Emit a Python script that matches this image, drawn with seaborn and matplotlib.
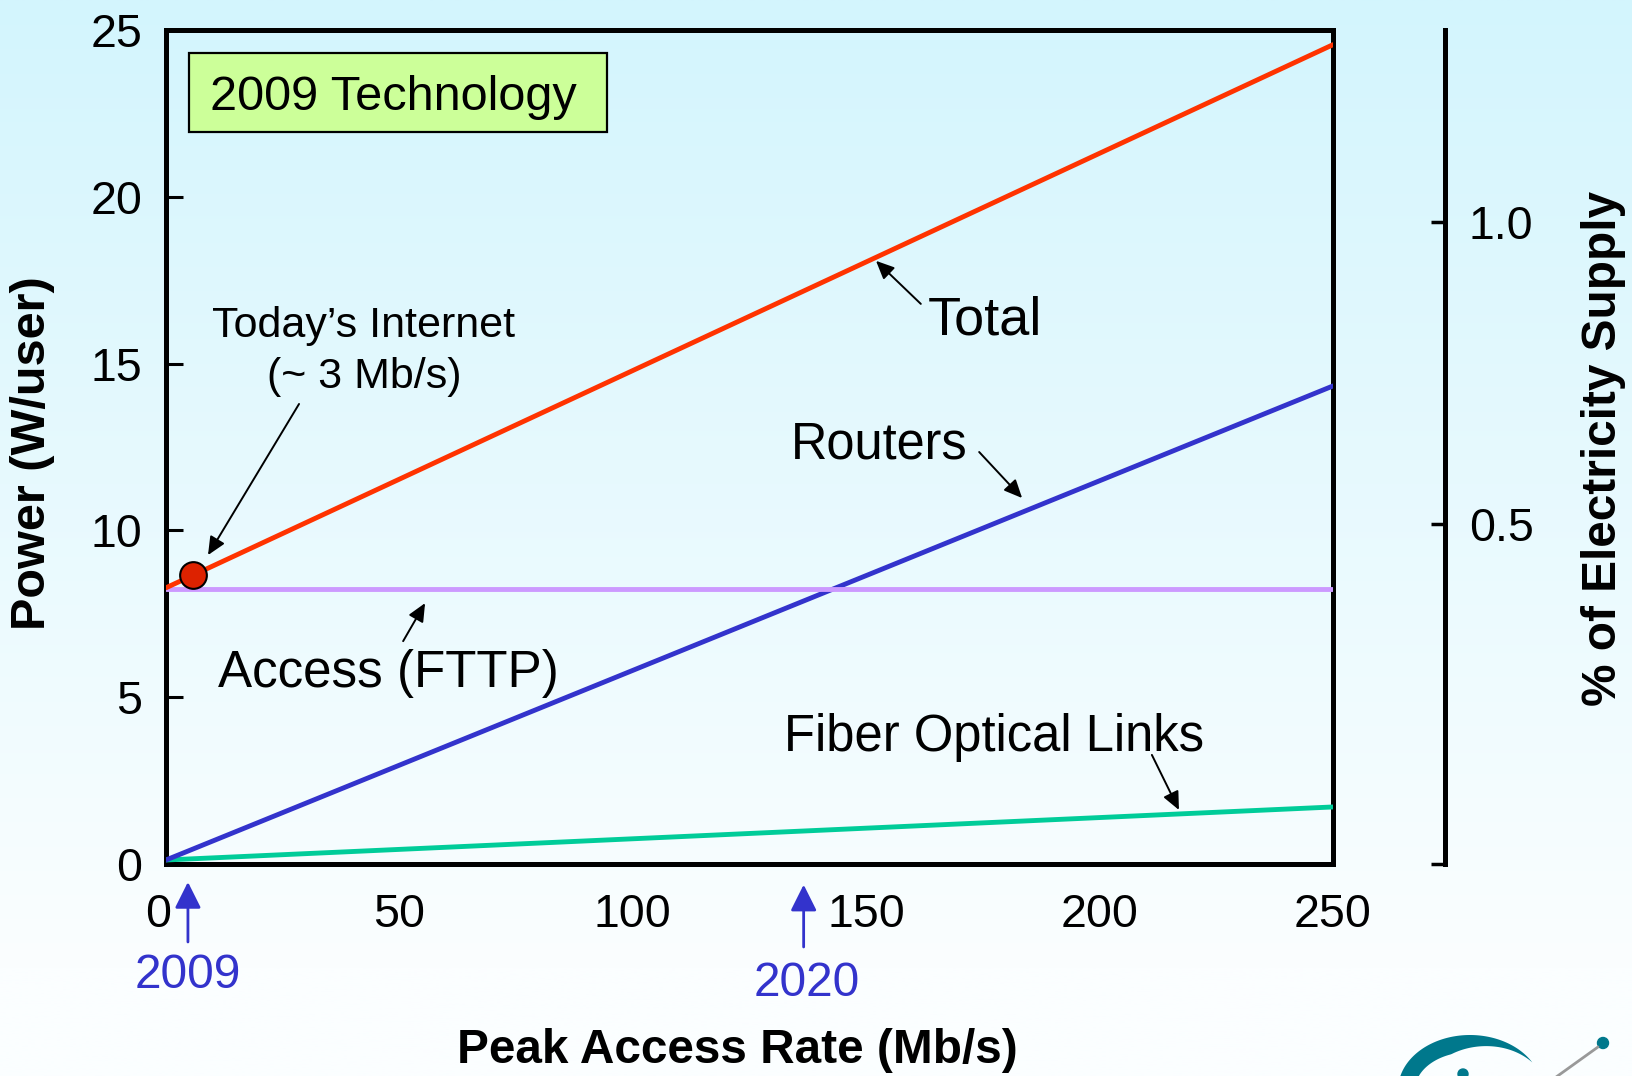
import numpy as np
import pandas as pd
import matplotlib
matplotlib.use("Agg")
import matplotlib.pyplot as plt
import matplotlib.transforms as mtransforms
import seaborn as sns
from matplotlib.patches import Polygon, Circle, Rectangle

# ---------------- data ----------------
rate = [0, 250]                       # Peak access rate (Mb/s)
total = [8.28, 24.56]                 # W/user
routers = [0.12, 14.33]
access = [8.25, 8.25]
fiber = [0.12, 1.71]
today_rate = [5.8]
today_power = [8.65]
year_labels = ["2009", "2020"]
year_rates = [4.7, 136.6]
x_ticks = [0, 50, 100, 150, 200, 250]
y_ticks = [0, 5, 10, 15, 20, 25]
right_ticks = [-0.063, 0.5, 1.0]
right_tick_labels = ["", "0.5", "1.0"]

series_names = ["Fiber Optical Links", "Routers", "Access (FTTP)", "Total"]
series_values = [fiber, routers, access, total]
palette = {"Total": "#FF3300", "Routers": "#3333CC",
           "Access (FTTP)": "#CC99FF", "Fiber Optical Links": "#00CC99"}

df = pd.DataFrame({
    "rate": rate * len(series_names),
    "power": [v for vals in series_values for v in vals],
    "series": [n for n in series_names for _ in rate],
})

# ---------------- style ----------------
sns.set_theme(style="white")
plt.rcParams["font.family"] = ["Liberation Sans", "DejaVu Sans"]
plt.rcParams["text.color"] = "black"
plt.rcParams["axes.labelcolor"] = "black"
plt.rcParams["xtick.color"] = "black"
plt.rcParams["ytick.color"] = "black"

W, H = 1632, 1076
fig = plt.figure(figsize=(W / 100, H / 100), dpi=100)

# background gradient
bg = fig.add_axes([0, 0, 1, 1], zorder=-10)
t = np.linspace(0, 1, 512)[:, None]
top_c = np.array([211, 245, 253]) / 255.0
bot_c = np.array([251, 254, 255]) / 255.0
tt = np.clip(t / 0.9, 0, 1)
img = (top_c[None, None, :] * (1 - tt[..., None]) + bot_c[None, None, :] * tt[..., None])
img = np.repeat(img, 2, axis=1)
bg.imshow(img, aspect="auto", extent=[0, W, H, 0])
bg.set_xlim(0, W)
bg.set_ylim(H, 0)
bg.axis("off")

# logo (decorative, bottom right)
th = np.radians(np.linspace(30, 215, 120))
cx, cy, rx, ry = 1470, 1090, 72, 55
outer = np.column_stack([cx + rx * np.cos(th), cy - ry * np.sin(th)])
thick = 17 * np.clip((np.degrees(th) - 30) / 80, 0, 1)
inner = np.column_stack([cx + (rx - thick) * np.cos(th), cy - (ry - thick) * np.sin(th)])
bg.add_patch(Polygon(np.vstack([outer, inner[::-1]]), closed=True,
                     facecolor="#00788C", edgecolor="none"))
bg.plot([1598, 1552], [1047, 1080], color="#999999", lw=2)
bg.add_patch(Circle((1603, 1043), 5.5, color="#00788C"))
bg.add_patch(Circle((1463, 1074), 5, color="#00788C"))

# main axes
ax = fig.add_axes([166 / W, 1 - 864 / H, 1167 / W, 834 / H])
ax.patch.set_alpha(0)

sns.lineplot(data=df, x="rate", y="power", hue="series", hue_order=series_names,
             palette=palette, linewidth=3.5, legend=False, ax=ax, zorder=3)
sns.scatterplot(x=today_rate, y=today_power, s=370, color="#DD2200",
                edgecolor="black", linewidth=1.5, ax=ax, zorder=6, clip_on=False)

ax.set_xlim(0, 250)
ax.set_ylim(0, 25)
ax.set_xticks(x_ticks)
ax.set_yticks(y_ticks)
ax.set_xticklabels([str(v) for v in x_ticks])
ax.set_yticklabels([str(v) for v in y_ticks])
for s in ax.spines.values():
    s.set_visible(True)
    s.set_linewidth(3.6)
    s.set_color("black")
ax.tick_params(axis="both", direction="in", length=12, width=2.2, color="black",
               labelsize=33.5, labelcolor="black")
ax.tick_params(axis="x", pad=21)
ax.tick_params(axis="y", pad=17)
# the "0" label sits a little left of its tick, clear of the 2009 arrow
lab0 = ax.get_xticklabels()[0]
lab0.set_transform(lab0.get_transform() +
                   mtransforms.ScaledTranslation(-8 / 100, 0, fig.dpi_scale_trans))

ax.set_xlabel("Peak Access Rate (Mb/s)", fontsize=34.4, fontweight="bold")
ax.xaxis.label.set_va("center")
ax.xaxis.set_label_coords(0.490, -0.2242)
ax.set_ylabel("Power (W/user)", fontsize=35, fontweight="bold")
ax.yaxis.label.set_va("center")
ax.yaxis.set_label_coords(-0.114, 0.493)

# right axis
ax2 = ax.twinx()
ax2.patch.set_alpha(0)
ax2.set_ylim(-0.063, 1.318)
for k in ["left", "top", "bottom"]:
    ax2.spines[k].set_visible(False)
ax2.spines["right"].set_position(("axes", 1.096))
ax2.spines["right"].set_linewidth(3.6)
ax2.spines["right"].set_color("black")
ax2.set_yticks(right_ticks)
ax2.set_yticklabels(right_tick_labels)
ax2.tick_params(axis="y", direction="in", length=10, width=2.5, color="black",
                labelsize=33.5, pad=17, labelcolor="black")
ax2.set_ylabel("% of Electricity Supply", fontsize=34.4, fontweight="bold", rotation=90)
ax2.yaxis.set_label_position("right")
ax2.yaxis.label.set_va("center")
ax2.yaxis.set_label_coords(1.2314, 0.4988)

# annotations
arrow_k = dict(arrowstyle="-|>,head_length=0.55,head_width=0.25", color="black",
               lw=1.4, mutation_scale=20, shrinkA=0, shrinkB=0)
ax.annotate("", xy=(152.1, 18.08), xytext=(161.7, 16.79), arrowprops=arrow_k)
ax.text(163.2, 15.86, "Total", fontsize=39, ha="left", va="baseline")
ax.annotate("", xy=(183.4, 10.97), xytext=(174.2, 12.35), arrowprops=arrow_k)
ax.text(133.9, 12.17, "Routers", fontsize=36.4, ha="left", va="baseline")
ax.annotate("", xy=(55.5, 7.82), xytext=(50.8, 6.68), arrowprops=arrow_k)
ax.text(11.1, 5.31, "Access (FTTP)", fontsize=36.8, ha="left", va="baseline")
ax.annotate("", xy=(217.0, 1.62), xytext=(211.2, 3.27), arrowprops=arrow_k)
ax.text(132.4, 3.39, "Fiber Optical Links", fontsize=36.5, ha="left", va="baseline")
ax.annotate("", xy=(9.0, 9.26), xytext=(28.5, 13.79), arrowprops=arrow_k)
ax.text(42.4, 15.80, "Today\u2019s Internet", fontsize=31, ha="center", va="baseline")
ax.text(42.4, 14.27, "(~ 3 Mb/s)", fontsize=31, ha="center", va="baseline")

ax.add_patch(Rectangle((0.0197, 0.8777), 0.3582, 0.0947, transform=ax.transAxes,
                       facecolor="#CCFF99", edgecolor="black", lw=1.6, zorder=4))
ax.text(0.0377, 0.9041, "2009 Technology", transform=ax.transAxes, fontsize=35,
        ha="left", va="baseline", zorder=5)

# year markers below the axis
blue_arrow = dict(arrowstyle="-|>,head_length=0.8,head_width=0.4", color="#3333CC",
                  lw=2.0, mutation_scale=20, shrinkA=0, shrinkB=0)
trans = ax.get_xaxis_transform()
year_arrow_tail = [-0.0935, -0.0995]
year_arrow_head = [-0.0216, -0.0248]
year_text_y = [-0.1487, -0.1583]
year_text_x = [4.7, 137.3]
for lab, xr, xt, yh, yt, ty in zip(year_labels, year_rates, year_text_x,
                                   year_arrow_head, year_arrow_tail, year_text_y):
    ax.annotate("", xy=(xr, yh), xytext=(xr, yt), xycoords=trans, textcoords=trans,
                arrowprops=blue_arrow, annotation_clip=False)
    ax.text(xt, ty, lab, transform=trans, fontsize=34.4, color="#3333CC",
            ha="center", va="baseline", clip_on=False)

fig.savefig("out.png", dpi=100)
